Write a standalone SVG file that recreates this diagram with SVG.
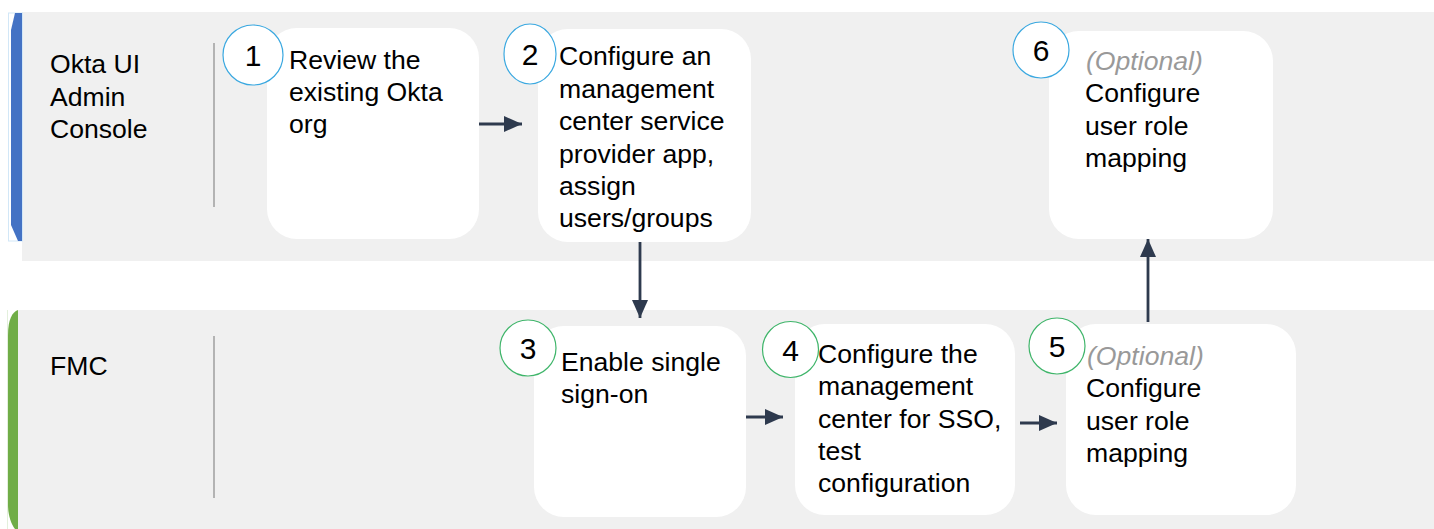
<svg xmlns="http://www.w3.org/2000/svg" width="1434" height="529" viewBox="0 0 1434 529">
<style>
  .lane { fill: #f0f0f0; }
  .box { fill: #ffffff; }
  .t { font-family: "Liberation Sans", Arial, sans-serif; font-size: 26.6px; fill: #000; }
  .opt { font-style: italic; fill: #999999; }
  .num { font-family: "Liberation Sans", Arial, sans-serif; font-size: 30px; fill: #000; text-anchor: middle; }
  .cb { fill: #ffffff; stroke: #3aa8e0; stroke-width: 1.2; }
  .cg { fill: #ffffff; stroke: #3fb56a; stroke-width: 1.2; }
  .div { stroke: #8a8a8a; stroke-width: 1.2; }
  .conn { stroke: #2e3a4e; stroke-width: 2.8; fill: none; marker-end: url(#ah); }
</style>
<defs>
  <marker id="ah" markerUnits="userSpaceOnUse" markerWidth="20" markerHeight="16" refX="18" refY="8" orient="auto">
    <path d="M0,0 L18,8 L0,16 Z" fill="#2e3a4e"/>
  </marker>
</defs>
<rect width="1434" height="529" fill="#ffffff"/>
<g id="lane-okta">
  <rect class="lane" x="22" y="12" width="1412" height="249"/>
  <rect x="8.5" y="13" width="14" height="228" fill="none" stroke="#d2e7f7" stroke-width="1"/>
  <polygon points="11,30 15,13 22,13 22,241 18,241 11,225" fill="#4472c4"/>
  <line class="div" x1="214" y1="43" x2="214" y2="207"/>
  <text class="t" x="50" y="73">Okta UI</text>
  <text class="t" x="50" y="106">Admin</text>
  <text class="t" x="50" y="138">Console</text>
</g>
<g id="lane-fmc">
  <rect class="lane" x="18" y="310" width="1416" height="219"/>
  <line x1="7.5" y1="310" x2="7.5" y2="529" stroke="#e3f0dc" stroke-width="1"/>
  <path d="M18,310 C12,312 8,320 8,335 L8,505 C8,515 11,524 15,529 L18,529 Z" fill="#70ad47"/>
  <line class="div" x1="214" y1="336" x2="214" y2="498"/>
  <text class="t" x="50" y="375">FMC</text>
</g>
<g id="connectors">
  <line class="conn" x1="479" y1="124" x2="522" y2="124"/>
  <line class="conn" x1="640" y1="242" x2="640" y2="318"/>
  <line class="conn" x1="746" y1="417" x2="783" y2="417"/>
  <line class="conn" x1="1020" y1="423" x2="1057" y2="423"/>
  <line class="conn" x1="1148" y1="322" x2="1148" y2="239"/>
</g>
<g id="node1">
  <rect class="box" x="267" y="28" width="212" height="211" rx="30"/>
  <circle class="cb" cx="253" cy="55" r="30"/>
  <text class="num" x="253" y="66">1</text>
  <text class="t" x="289" y="69">Review the</text>
  <text class="t" x="289" y="101">existing Okta</text>
  <text class="t" x="289" y="133">org</text>
</g>
<g id="node2">
  <rect class="box" x="538" y="29" width="213" height="213" rx="30"/>
  <ellipse class="cb" cx="530" cy="54" rx="26" ry="30"/>
  <text class="num" x="530" y="65">2</text>
  <text class="t" x="559" y="65">Configure an</text>
  <text class="t" x="559" y="98">management</text>
  <text class="t" x="559" y="130">center service</text>
  <text class="t" x="559" y="163">provider app,</text>
  <text class="t" x="559" y="195">assign</text>
  <text class="t" x="559" y="227">users/groups</text>
</g>
<g id="node6">
  <rect class="box" x="1049" y="31" width="224" height="208" rx="30"/>
  <circle class="cb" cx="1041" cy="50" r="28"/>
  <text class="num" x="1041" y="61">6</text>
  <text class="t opt" x="1086" y="70">(Optional)</text>
  <text class="t" x="1085" y="102">Configure</text>
  <text class="t" x="1085" y="135">user role</text>
  <text class="t" x="1085" y="167">mapping</text>
</g>
<g id="node3">
  <rect class="box" x="534" y="326" width="212" height="191" rx="30"/>
  <circle class="cg" cx="528" cy="348" r="28"/>
  <text class="num" x="528" y="359">3</text>
  <text class="t" x="561" y="371">Enable single</text>
  <text class="t" x="561" y="403">sign-on</text>
</g>
<g id="node4">
  <rect class="box" x="795" y="324" width="220" height="191" rx="30"/>
  <circle class="cg" cx="790.5" cy="349.5" r="28"/>
  <text class="num" x="790.5" y="360.5">4</text>
  <text class="t" x="818" y="363">Configure the</text>
  <text class="t" x="818" y="395">management</text>
  <text class="t" x="818" y="428">center for SSO,</text>
  <text class="t" x="818" y="460">test</text>
  <text class="t" x="818" y="492">configuration</text>
</g>
<g id="node5">
  <rect class="box" x="1066" y="324" width="230" height="191" rx="30"/>
  <circle class="cg" cx="1057" cy="346" r="28"/>
  <text class="num" x="1057" y="357">5</text>
  <text class="t opt" x="1087" y="365">(Optional)</text>
  <text class="t" x="1086" y="397">Configure</text>
  <text class="t" x="1086" y="430">user role</text>
  <text class="t" x="1086" y="462">mapping</text>
</g>
</svg>
